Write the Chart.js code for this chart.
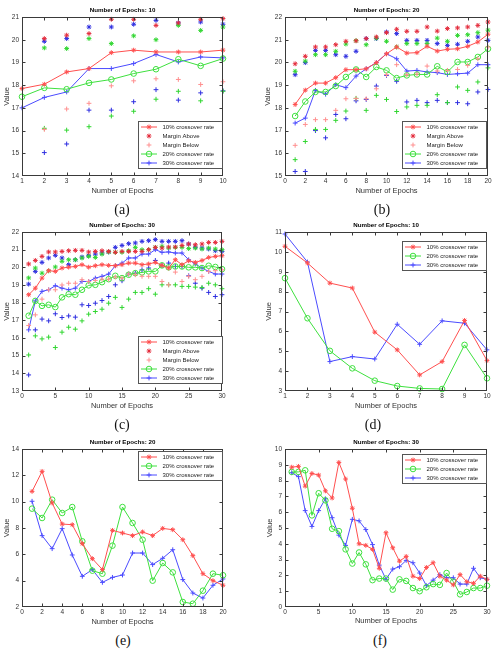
<!DOCTYPE html>
<html>
<head>
<meta charset="utf-8">
<script src="https://cdn.jsdelivr.net/npm/chart.js@4.4.1/dist/chart.umd.min.js"></script>
<style>
  body { margin: 0; background: #fff; }
  #page { position: relative; width: 497px; height: 651px; overflow: hidden; }
  .cell { position: absolute; }
  .cap { position: absolute; font-family: "Liberation Serif", "DejaVu Serif", serif; font-size: 14px; color: #111; transform: translate(-50%, -50%); }
</style>
</head>
<body>
<div id="page">
  <div class="cell" style="left:0px;top:0px;width:248px;height:200px"><canvas id="chartA"></canvas></div>
  <div class="cell" style="left:248px;top:0px;width:249px;height:200px"><canvas id="chartB"></canvas></div>
  <div class="cell" style="left:0px;top:215px;width:248px;height:200px"><canvas id="chartC"></canvas></div>
  <div class="cell" style="left:248px;top:215px;width:249px;height:200px"><canvas id="chartD"></canvas></div>
  <div class="cell" style="left:0px;top:430px;width:248px;height:200px"><canvas id="chartE"></canvas></div>
  <div class="cell" style="left:248px;top:430px;width:249px;height:200px"><canvas id="chartF"></canvas></div>
  <div class="cap" style="left:122px;top:210px">(a)</div>
  <div class="cap" style="left:382px;top:210px">(b)</div>
  <div class="cap" style="left:122px;top:425px">(c)</div>
  <div class="cap" style="left:373px;top:425px">(d)</div>
  <div class="cap" style="left:123px;top:641px">(e)</div>
  <div class="cap" style="left:380px;top:641px">(f)</div>
</div>
<script>
// epochs (x values)
const epochs10 = [1, 2, 3, 4, 5, 6, 7, 8, 9, 10];
const epochs20 = [1, 2, 3, 4, 5, 6, 7, 8, 9, 10, 11, 12, 13, 14, 15, 16, 17, 18, 19, 20];
const epochs30 = [1, 2, 3, 4, 5, 6, 7, 8, 9, 10, 11, 12, 13, 14, 15, 16, 17, 18, 19, 20,
                  21, 22, 23, 24, 25, 26, 27, 28, 29, 30];

const seriesNames = ['10% crossover rate', '20% crossover rate', '30% crossover rate'];
const marginNames = ['Margin Above', 'Margin Below'];
const xTitle = 'Number of Epochs';
const yTitle = 'Value';

// (a) Number of Epochs: 10
const a10 = [17.85, 18.04, 18.58, 18.73, 19.43, 19.54, 19.46, 19.46, 19.46, 19.54];
const a10Above = [null, 20.05, 20.2, 20.27, 20.9, 20.9, 20.63, 20.74, 20.9, 20.93];
const a10Below = [null, 16.05, 16.95, 17.2, 17.97, 18.19, 18.28, 18.25, 18.03, 18.15];
const a20 = [17.49, 17.88, 17.82, 18.1, 18.25, 18.51, 18.7, 19.14, 18.85, 19.17];
const a20Above = [null, 19.64, 19.61, 20.05, 19.83, 20.17, 20.0, 20.63, 20.41, 20.56];
const a20Below = [null, 16.1, 16.02, 16.17, 16.64, 16.85, 17.38, 17.73, 17.31, 17.73];
const a30 = [17.0, 17.46, 17.7, 18.73, 18.73, 18.95, 19.35, 19.02, 19.24, 19.2];
const a30Above = [null, 19.93, 20.05, 20.56, 20.56, 20.68, 20.85, 20.74, 20.78, 20.68];
const a30Below = [null, 15.03, 15.41, 16.9, 16.9, 17.27, 17.8, 17.34, 17.66, 17.75];

// (b) Number of Epochs: 20
const b10 = [18.15, 18.78, 19.09, 19.09, 19.33, 19.68, 19.68, 19.72, 19.99, 20.38,
             20.68, 20.41, 20.43, 20.71, 20.5, 20.58, 20.6, 20.71, 20.9, 21.24];
const b10Above = [19.94, 20.27, 20.68, 20.68, 20.78, 20.93, 20.95, 21.05, 21.12, 21.31,
                  21.46, 21.37, 21.37, 21.56, 21.38, 21.49, 21.52, 21.56, 21.63, 21.78];
const b10Below = [16.35, 17.27, 17.48, 17.48, 17.89, 18.4, 18.41, 18.4, 18.84, 19.46,
                  19.9, 19.46, 19.49, 19.84, 19.62, 19.65, 19.69, 19.87, 20.16, 20.68];
const b20 = [17.64, 18.28, 18.7, 18.7, 18.96, 19.36, 19.69, 19.36, 19.8, 19.65,
             19.31, 19.43, 19.47, 19.47, 19.83, 19.58, 20.02, 20.02, 20.24, 20.6];
const b20Above = [19.61, 20.06, 20.34, 20.34, 20.49, 20.81, 20.96, 20.78, 21.07, 20.93,
                  20.68, 20.83, 20.83, 20.83, 21.07, 20.93, 21.19, 21.22, 21.31, 21.42];
const b20Below = [15.72, 16.52, 17.05, 17.05, 17.45, 17.86, 18.42, 17.89, 18.55, 18.37,
                  17.84, 18.04, 18.11, 18.11, 18.58, 18.23, 18.92, 18.77, 19.14, 19.76];
const b30 = [17.33, 17.55, 18.77, 18.6, 19.02, 18.89, 19.4, 19.72, 19.99, 20.38,
             20.16, 19.62, 19.65, 19.58, 19.55, 19.47, 19.5, 19.53, 19.9, 19.9];
const b30Above = [19.46, 19.99, 20.53, 20.53, 20.34, 20.27, 20.49, 21.05, 21.05, 21.34,
                  21.27, 20.97, 20.97, 20.97, 20.83, 20.75, 20.8, 20.93, 21.12, 20.97];
const b30Below = [15.2, 15.2, 17.0, 16.68, 17.71, 17.52, 18.31, 18.37, 18.96, 19.43,
                  19.17, 18.26, 18.33, 18.23, 18.33, 18.23, 18.23, 18.18, 18.7, 18.81];

// (c) Number of Epochs: 30
const c10 = [18.45, 18.82, 19.39, 19.81, 19.77, 19.96, 20.01, 20.05, 20.15, 20.01,
             20.09, 20.15, 20.11, 20.09, 20.15, 20.24, 20.24, 20.15, 20.19, 20.28,
             20.11, 19.96, 20.43, 20.15, 20.37, 20.28, 20.39, 20.56, 20.62, 20.66];
const c10Above = [20.19, 20.39, 20.62, 20.87, 20.87, 20.9, 20.94, 20.96, 20.96, 20.87,
                  20.9, 20.94, 20.9, 20.85, 20.9, 20.9, 20.9, 20.9, 21.0, 21.13,
                  21.09, 21.15, 21.15, 21.24, 21.32, 21.28, 21.32, 21.41, 21.41, 21.47];
const c10Below = [16.71, 17.31, 18.2, 18.73, 18.73, 19.0, 19.1, 19.1, 19.3, 19.2,
                  19.26, 19.33, 19.33, 19.45, 19.39, 19.62, 19.58, 19.49, 19.49, 19.49,
                  19.2, 19.01, 19.73, 19.2, 19.49, 19.3, 19.49, 19.77, 19.81, 19.86];
const c20 = [17.26, 18.1, 17.82, 17.88, 17.75, 18.3, 18.48, 18.45, 18.73, 18.98,
             19.01, 19.16, 19.33, 19.52, 19.39, 19.58, 19.67, 19.71, 19.77, 19.77,
             20.11, 20.0, 20.05, 20.05, 20.0, 20.0, 19.96, 20.09, 20.02, 19.9];
const c20Above = [19.4, 19.96, 19.67, 19.8, 20.02, 20.34, 20.43, 20.43, 20.53, 20.62,
                  20.56, 20.75, 20.87, 20.85, 20.85, 20.94, 21.13, 21.0, 21.0, 21.13,
                  21.19, 21.09, 21.13, 21.13, 21.06, 21.09, 21.04, 21.09, 21.04, 21.0];
const c20Below = [15.04, 16.12, 15.95, 16.05, 15.46, 16.33, 16.61, 16.5, 16.97, 17.35,
                  17.5, 17.63, 17.97, 18.3, 17.73, 18.2, 18.58, 18.58, 18.79, 18.48,
                  19.01, 19.01, 19.01, 18.92, 18.92, 18.88, 18.86, 19.1, 19.01, 18.79];
const c30 = [16.46, 18.1, 18.64, 18.73, 18.96, 18.82, 18.73, 18.82, 19.2, 19.2,
             19.39, 19.49, 19.62, 20.09, 20.24, 20.53, 20.53, 20.75, 20.75, 21.0,
             20.85, 20.87, 20.81, 20.81, 20.43, 20.19, 19.96, 19.77, 19.62, 19.62];
const c30Above = [19.05, 19.77, 20.28, 20.53, 20.68, 20.53, 20.15, 20.43, 20.58, 20.66,
                  20.75, 20.81, 20.87, 21.13, 21.24, 21.34, 21.38, 21.47, 21.51, 21.57,
                  21.47, 21.47, 21.47, 21.51, 21.32, 21.13, 21.09, 21.04, 20.94, 20.9];
const c30Below = [13.91, 16.46, 17.07, 16.97, 17.37, 17.16, 17.25, 17.18, 17.88, 17.84,
                  17.97, 18.12, 18.35, 19.01, 19.24, 19.62, 19.67, 19.86, 19.96, 20.39,
                  20.11, 20.24, 20.05, 20.05, 19.52, 19.1, 18.82, 18.58, 18.35, 18.45];

// (d) Number of Epochs: 10
const d10 = [10.28, 9.44, 8.43, 8.18, 5.96, 5.07, 3.81, 4.48, 6.55, 4.53];
const d20 = [8.68, 6.66, 5.02, 4.14, 3.52, 3.25, 3.13, 3.1, 5.32, 3.64];
const d30 = [10.9, 9.49, 4.48, 4.73, 4.61, 6.36, 5.35, 6.53, 6.41, 5.07];

// (e) Number of Epochs: 20
const e10 = [10.78, 12.3, 9.9, 8.3, 8.25, 6.81, 5.67, 4.84, 7.82, 7.62,
             7.42, 7.7, 7.42, 7.97, 7.87, 7.11, 5.9, 4.53, 4.0, 3.65];
const e20 = [9.47, 8.76, 10.15, 9.14, 9.59, 6.99, 4.76, 4.53, 6.66, 9.59,
             8.38, 7.11, 4.0, 5.34, 4.63, 2.38, 2.25, 3.24, 4.53, 4.41];
const e30 = [10.03, 7.42, 6.43, 7.95, 5.95, 4.33, 4.84, 3.87, 4.25, 4.43,
             6.1, 6.1, 5.22, 5.7, 6.35, 4.08, 3.06, 2.68, 3.65, 4.13];

// (f) Number of Epochs: 30
const f10 = [8.85, 8.9, 7.65, 8.45, 8.35, 7.35, 6.9, 9.15, 8.1, 6.25,
             4.0, 3.9, 3.65, 2.45, 4.7, 3.75, 2.9, 3.2, 1.95, 1.8,
             2.5, 2.8, 1.95, 1.7, 1.4, 2.05, 1.6, 1.5, 1.95, 1.75];
const f20 = [8.55, 8.55, 8.65, 5.8, 7.2, 6.75, 4.95, 4.8, 3.65, 2.75,
             3.45, 2.7, 1.7, 1.8, 1.8, 1.1, 1.75, 1.65, 1.2, 1.0,
             1.25, 1.45, 1.4, 2.15, 1.6, 0.8, 0.95, 1.2, 1.2, 1.35];
const f30 = [8.5, 8.25, 6.1, 5.1, 6.1, 6.85, 5.65, 4.55, 3.9, 5.55,
             5.45, 4.9, 3.95, 2.65, 1.75, 2.4, 2.55, 2.95, 2.8, 2.15,
             1.35, 1.7, 2.05, 1.85, 1.85, 1.45, 1.45, 2.45, 1.85, 1.75];

const RED = '#ff4f4f';
const GREEN = '#3ee03e';
const BLUE = '#4b4bff';
const RED_ABOVE = '#e42c3c';
const RED_BELOW = '#ff8f8f';
const GREEN_MARK = '#30d630';
const BLUE_MARK = '#2e2ee0';
const TITLE_SIZE = 6.2;
const AXIS_TITLE_SIZE = 7.5;

Chart.defaults.font.family = '"Liberation Sans", Arial, sans-serif';

function toPoints(epochs, values) {
    return values.map((v, i) => ({ x: epochs[i], y: v }));
}

function lineSeries(label, epochs, values, color, pointStyle) {
    return {
        label: label,
        data: toPoints(epochs, values),
        borderColor: color,
        backgroundColor: 'rgba(0,0,0,0)',
        borderWidth: 1,
        tension: 0,
        pointStyle: pointStyle,
        pointRadius: pointStyle === 'circle' ? 2.8 : 2.4,
        pointBorderWidth: 1,
        pointBorderColor: color,
        pointBackgroundColor: 'rgba(0,0,0,0)',
        clip: false,
        inLegend: true
    };
}

function markerSeries(label, epochs, values, color, pointStyle, inLegend) {
    return {
        label: label,
        data: toPoints(epochs, values),
        showLine: false,
        borderColor: color,
        backgroundColor: 'rgba(0,0,0,0)',
        pointStyle: pointStyle,
        pointRadius: 2.4,
        pointBorderWidth: 1,
        pointBorderColor: color,
        pointBackgroundColor: 'rgba(0,0,0,0)',
        clip: false,
        inLegend: inLegend
    };
}

// Full set: mean lines plus margin markers (only red margins go into the legend)
function marginDatasets(epochs, r, rUp, rDown, g, gUp, gDown, b, bUp, bDown) {
    return [
        lineSeries(seriesNames[0], epochs, r, RED, 'star'),
        markerSeries(marginNames[0], epochs, rUp, RED_ABOVE, 'star', true),
        markerSeries(marginNames[1], epochs, rDown, RED_BELOW, 'cross', true),
        lineSeries(seriesNames[1], epochs, g, GREEN, 'circle'),
        lineSeries(seriesNames[2], epochs, b, BLUE, 'cross'),
        markerSeries(marginNames[0], epochs, gUp, GREEN_MARK, 'star', false),
        markerSeries(marginNames[1], epochs, gDown, GREEN_MARK, 'cross', false),
        markerSeries(marginNames[0], epochs, bUp, BLUE_MARK, 'star', false),
        markerSeries(marginNames[1], epochs, bDown, BLUE_MARK, 'cross', false)
    ];
}

function plainDatasets(epochs, r, g, b) {
    return [
        lineSeries(seriesNames[0], epochs, r, RED, 'star'),
        lineSeries(seriesNames[1], epochs, g, GREEN, 'circle'),
        lineSeries(seriesNames[2], epochs, b, BLUE, 'cross')
    ];
}

// Box, inward tick marks and boxed legend, drawn like the original plots
const framePlugin = {
    id: 'matlabFrame',
    afterDatasetsDraw(chart, args, opts) {
        const { ctx, chartArea: a, scales } = chart;
        const left = Math.round(a.left) + 0.5;
        const right = Math.round(a.right) - 0.5;
        const top = Math.round(a.top) + 0.5;
        const bottom = Math.round(a.bottom) - 0.5;
        ctx.save();
        ctx.strokeStyle = '#3a3a3a';
        ctx.lineWidth = 1;
        ctx.strokeRect(left, top, right - left, bottom - top);

        ctx.beginPath();
        scales.x.ticks.forEach(t => {
            const px = Math.round(scales.x.getPixelForValue(t.value)) + 0.5;
            if (px - left < 2 || right - px < 2) return;
            ctx.moveTo(px, bottom); ctx.lineTo(px, bottom - 3);
            ctx.moveTo(px, top); ctx.lineTo(px, top + 3);
        });
        scales.y.ticks.forEach(t => {
            const py = Math.round(scales.y.getPixelForValue(t.value)) + 0.5;
            if (py - top < 2 || bottom - py < 2) return;
            ctx.moveTo(left, py); ctx.lineTo(left + 3, py);
            ctx.moveTo(right, py); ctx.lineTo(right - 3, py);
        });
        ctx.stroke();

        // legend
        const lg = opts.legend;
        const items = chart.data.datasets.filter(ds => ds.inLegend);
        const rowH = 9;
        const boxW = 84;
        const boxH = 11 + rowH * (items.length - 1);
        const bx = Math.round(a.right - lg.gapX - boxW) + 0.5;
        const by = lg.corner === 'br'
            ? Math.round(a.bottom - lg.gapY - boxH) + 0.5
            : Math.round(a.top + lg.gapY) + 0.5;
        ctx.fillStyle = '#fff';
        ctx.fillRect(bx, by, boxW, boxH);
        ctx.strokeStyle = '#555';
        ctx.strokeRect(bx, by, boxW, boxH);

        ctx.font = '6px "Liberation Sans", Arial, sans-serif';
        ctx.textBaseline = 'middle';
        ctx.textAlign = 'left';
        items.forEach((ds, i) => {
            const cy = by + 5.5 + i * rowH;
            ctx.strokeStyle = ds.borderColor;
            ctx.lineWidth = 1;
            if (ds.showLine !== false) {
                ctx.beginPath();
                ctx.moveTo(bx + 2.5, cy);
                ctx.lineTo(bx + 18.5, cy);
                ctx.stroke();
            }
            ctx.fillStyle = 'rgba(0,0,0,0)';
            Chart.helpers.drawPoint(ctx, {
                pointStyle: ds.pointStyle, radius: ds.pointRadius, rotation: 0, borderWidth: 1
            }, bx + 10.5, cy);
            ctx.fillStyle = '#222';
            ctx.fillText(ds.label, bx + 24, cy + 0.3);
        });
        ctx.restore();
    }
};

function buildPanel(p) {
    const lineH = TITLE_SIZE * 1.2;
    const axisLineH = AXIS_TITLE_SIZE * 1.2;
    new Chart(document.getElementById(p.id), {
        type: 'line',
        data: { datasets: p.datasets },
        options: {
            responsive: true,
            maintainAspectRatio: false,
            animation: false,
            devicePixelRatio: 1,
            layout: {
                autoPadding: false,
                padding: { left: 0, top: 0, right: p.width - p.area.right, bottom: 0 }
            },
            plugins: {
                legend: { display: false },
                tooltip: { enabled: false },
                title: {
                    display: true,
                    text: p.title,
                    fullSize: false,
                    color: '#000',
                    font: { size: TITLE_SIZE, weight: 'bold' },
                    padding: { top: p.titleY - lineH / 2, bottom: p.area.top - p.titleY - lineH / 2 }
                },
                matlabFrame: { legend: p.legend }
            },
            scales: {
                x: {
                    type: 'linear',
                    min: p.xRange[0],
                    max: p.xRange[1],
                    ticks: { stepSize: p.xRange[2], padding: 1.5, color: '#333', font: { size: 6.5 },
                             maxRotation: 0, autoSkip: false },
                    grid: { display: false, drawTicks: false },
                    border: { display: false },
                    title: { display: true, text: xTitle, color: '#333', font: { size: AXIS_TITLE_SIZE },
                             padding: { top: 0, bottom: p.height - p.xTitleY - axisLineH / 2 } },
                    afterFit: s => { s.height = p.height - p.area.bottom; s.paddingLeft = 0; s.paddingRight = 0; }
                },
                y: {
                    type: 'linear',
                    min: p.yRange[0],
                    max: p.yRange[1],
                    ticks: { stepSize: p.yRange[2], padding: 3, color: '#333', font: { size: 6.5 } },
                    grid: { display: false, drawTicks: false },
                    border: { display: false },
                    title: { display: true, text: yTitle, color: '#333', font: { size: AXIS_TITLE_SIZE },
                             padding: { top: p.yTitleX - axisLineH / 2, bottom: 0 } },
                    afterFit: s => { s.width = p.area.left; s.paddingTop = 0; s.paddingBottom = 0; }
                }
            }
        },
        plugins: [framePlugin]
    });
}

const panels = [
    { id: 'chartA', width: 248, height: 200, title: 'Number of Epochs: 10',
      area: { left: 22, top: 17, right: 223, bottom: 176 }, titleY: 10, yTitleX: 7.3, xTitleY: 190.7,
      xRange: [1, 10, 1], yRange: [14, 21, 1], legend: { corner: 'br', gapX: 1, gapY: 8 },
      datasets: marginDatasets(epochs10, a10, a10Above, a10Below, a20, a20Above, a20Below, a30, a30Above, a30Below) },
    { id: 'chartB', width: 249, height: 200, title: 'Number of Epochs: 20',
      area: { left: 37, top: 17, right: 240, bottom: 176 }, titleY: 10, yTitleX: 20, xTitleY: 190.7,
      xRange: [0, 20, 2], yRange: [15, 22, 1], legend: { corner: 'br', gapX: 2, gapY: 8 },
      datasets: marginDatasets(epochs20, b10, b10Above, b10Below, b20, b20Above, b20Below, b30, b30Above, b30Below) },
    { id: 'chartC', width: 248, height: 200, title: 'Number of Epochs: 30',
      area: { left: 22, top: 17, right: 222, bottom: 176 }, titleY: 10.7, yTitleX: 7.3, xTitleY: 190.7,
      xRange: [0, 30, 5], yRange: [13, 22, 1], legend: { corner: 'br', gapX: 0.5, gapY: 7.7 },
      datasets: marginDatasets(epochs30, c10, c10Above, c10Below, c20, c20Above, c20Below, c30, c30Above, c30Below) },
    { id: 'chartD', width: 249, height: 200, title: 'Number of Epochs: 10',
      area: { left: 37, top: 17, right: 239, bottom: 176 }, titleY: 10.7, yTitleX: 20.7, xTitleY: 190.7,
      xRange: [1, 10, 1], yRange: [3, 11, 1], legend: { corner: 'tr', gapX: 1.3, gapY: 8.7 },
      datasets: plainDatasets(epochs10, d10, d20, d30) },
    { id: 'chartE', width: 248, height: 200, title: 'Number of Epochs: 20',
      area: { left: 22, top: 19, right: 223, bottom: 177 }, titleY: 12.7, yTitleX: 7.3, xTitleY: 191.7,
      xRange: [0, 20, 2], yRange: [2, 14, 2], legend: { corner: 'tr', gapX: 1.3, gapY: 2.4 },
      datasets: plainDatasets(epochs20, e10, e20, e30) },
    { id: 'chartF', width: 249, height: 200, title: 'Number of Epochs: 30',
      area: { left: 37, top: 19, right: 239, bottom: 177 }, titleY: 12.3, yTitleX: 21.7, xTitleY: 191,
      xRange: [0, 30, 5], yRange: [0, 10, 1], legend: { corner: 'tr', gapX: 0.7, gapY: 4.7 },
      datasets: plainDatasets(epochs30, f10, f20, f30) }
];

panels.forEach(buildPanel);
</script>
</body>
</html>
